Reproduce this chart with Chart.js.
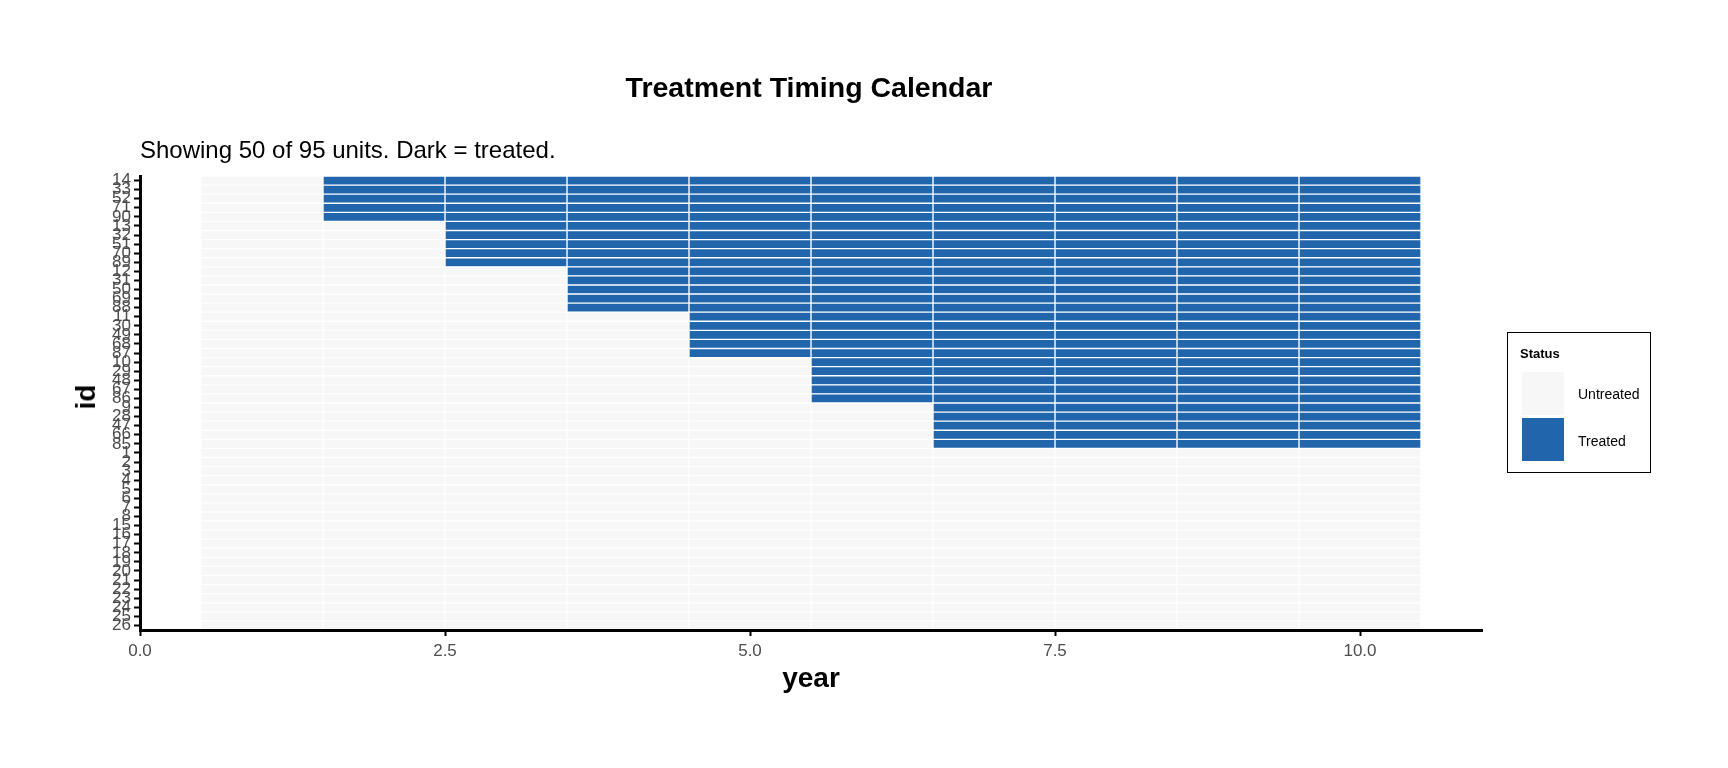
<!DOCTYPE html>
<html>
<head>
<meta charset="utf-8">
<script src="https://cdn.jsdelivr.net/npm/chart.js@4.4.1/dist/chart.umd.min.js"></script>
<style>
  body { margin: 0; background: #fff; font-family: "Liberation Sans", Arial, sans-serif; }
  #wrap { position: relative; width: 1728px; height: 768px; }
  #chart { position: absolute; left: 0; top: 0; }
  .txt { position: absolute; white-space: nowrap; color: #000; }
  #title { left: 809px; top: 87px; transform: translate(-50%, -50%); font-weight: bold; font-size: 28.5px; }
  #subtitle { left: 140px; top: 150px; transform: translateY(-50%); font-size: 24px; }
  #xtitle { left: 811px; top: 678px; transform: translate(-50%, -50%); font-weight: bold; font-size: 28px; }
  #ytitle { left: 86px; top: 397px; transform: translate(-50%, -50%) rotate(-90deg); font-weight: bold; font-size: 28px; }
  #legend { position: absolute; left: 1507px; top: 332px; width: 142px; height: 139px; border: 1.5px solid #000; }
  #legend .head { position: absolute; left: 12px; top: 20px; transform: translateY(-50%); font-weight: bold; font-size: 13px; }
  #legend .key { position: absolute; left: 14px; width: 42px; height: 43px; }
  #legend .lab { position: absolute; left: 70px; font-size: 14px; transform: translateY(-50%); }
</style>
</head>
<body>
<div id="wrap">
  <canvas id="chart" width="1728" height="768"></canvas>
  <div class="txt" id="title">Treatment Timing Calendar</div>
  <div class="txt" id="subtitle">Showing 50 of 95 units. Dark = treated.</div>
  <div class="txt" id="xtitle">year</div>
  <div class="txt" id="ytitle">id</div>
  <div id="legend">
    <div class="head">Status</div>
    <div class="key" style="top:39px;background:#F7F7F7"></div>
    <div class="lab" style="top:61px">Untreated</div>
    <div class="key" style="top:85px;background:#2166AC"></div>
    <div class="lab" style="top:108px">Treated</div>
  </div>
</div>
<script>
// unit ids, top to bottom
const ids = [
  '14', '33', '52', '71', '90',
  '13', '32', '51', '70', '89',
  '12', '31', '50', '69', '88',
  '11', '30', '49', '68', '87',
  '10', '29', '48', '67', '86',
  '9', '28', '47', '66', '85',
  '1', '2', '3', '4', '5', '6', '7', '8',
  '15', '16', '17', '18', '19', '20', '21', '22', '23', '24', '25', '26'
];

// first treated year per unit (0 = never treated)
const firstTreated = [
  2, 2, 2, 2, 2,
  3, 3, 3, 3, 3,
  4, 4, 4, 4, 4,
  5, 5, 5, 5, 5,
  6, 6, 6, 6, 6,
  7, 7, 7, 7, 7,
  0, 0, 0, 0, 0, 0, 0, 0,
  0, 0, 0, 0, 0, 0, 0, 0, 0, 0, 0, 0
];

const years = [1, 2, 3, 4, 5, 6, 7, 8, 9, 10];
const xTicks = [0, 2.5, 5, 7.5, 10];

const untreatedColor = '#F7F7F7';
const treatedColor = '#2166AC';

// one dataset per year, each tile is a floating bar [year-0.5, year+0.5]
const datasets = years.map((yr) => ({
  label: String(yr),
  data: ids.map(() => [yr - 0.5, yr + 0.5]),
  backgroundColor: ids.map((_, i) =>
    firstTreated[i] > 0 && yr >= firstTreated[i] ? treatedColor : untreatedColor
  ),
  borderColor: '#ffffff',
  borderWidth: 1,
  borderSkipped: false,
  barPercentage: 1,
  categoryPercentage: 1,
  grouped: false
}));

const tickFont = { family: '"Liberation Sans", Arial', size: 17 };

new Chart(document.getElementById('chart'), {
  type: 'bar',
  data: { labels: ids, datasets },
  options: {
    indexAxis: 'y',
    responsive: false,
    animation: false,
    devicePixelRatio: 1,
    layout: { padding: { top: 176, right: 246, left: 0, bottom: 0 } },
    plugins: { legend: { display: false }, tooltip: { enabled: false } },
    scales: {
      x: {
        type: 'linear',
        min: 0,
        max: 11,
        afterBuildTicks: (axis) => { axis.ticks = xTicks.map((v) => ({ value: v })); },
        afterFit: (axis) => { axis.height = 138; },
        ticks: {
          callback: (v) => Number(v).toFixed(1),
          color: '#4D4D4D',
          font: tickFont,
          padding: 5,
          maxRotation: 0
        },
        grid: { drawOnChartArea: false, color: '#000', tickLength: 6, tickWidth: 2 },
        // draw axis line above the tiles
        border: { color: '#000', width: 3, z: 1 }
      },
      y: {
        type: 'category',
        offset: true,
        afterFit: (axis) => { axis.width = 140; },
        ticks: {
          autoSkip: false,
          color: '#4D4D4D',
          font: tickFont,
          padding: 3
        },
        grid: { drawOnChartArea: false, color: '#000', tickLength: 6, tickWidth: 2, offset: false },
        border: { color: '#000', width: 3, z: 1 }
      }
    }
  }
});
</script>
</body>
</html>
